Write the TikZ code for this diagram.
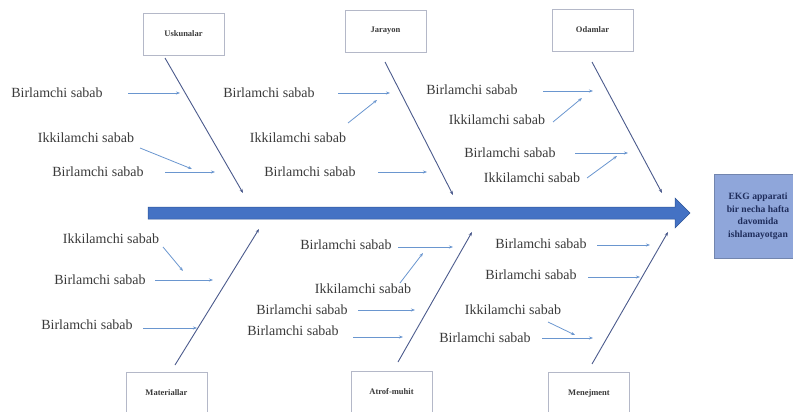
\documentclass[tikz,border=0pt]{standalone}
\usepackage{fontspec}
\setmainfont{Liberation Serif}
\usetikzlibrary{arrows.meta}
\definecolor{bone}{HTML}{4B5A8C}
\definecolor{cause}{HTML}{6A96CF}
\definecolor{mainblue}{HTML}{4472C4}
\definecolor{mainedge}{HTML}{2F5597}
\definecolor{effectfill}{HTML}{8FA6DA}
\definecolor{effecttext}{HTML}{1F2D5C}
\definecolor{boxedge}{HTML}{B4B8C8}
\definecolor{txt}{HTML}{3A3A3A}
\begin{document}
\begin{tikzpicture}[x=1pt,y=-1pt,
  cat/.style={draw=boxedge, line width=0.8pt, minimum width=81pt, minimum height=42pt,
    font=\fontsize{8.5}{10}\selectfont\bfseries, text=txt},
  causetext/.style={font=\fontsize{14}{16}\selectfont, text=txt, inner sep=0pt},
  bonearrow/.style={draw=bone, line width=0.9pt, -{Stealth[length=4pt,width=3pt]}},
  causearrow/.style={draw=cause, line width=0.8pt, -{Stealth[length=4pt,width=3pt]}},
  effectbox/.style={fill=effectfill, draw=effectfill!80!black, line width=0.4pt,
    minimum width=88pt, minimum height=84pt, align=center, text=effecttext,
    font=\fontsize{9.6}{12.5}\selectfont\bfseries}
]
\useasboundingbox (0,0) rectangle (793,412);
\clip (0,0) rectangle (793,412);

% main spine
\fill[mainblue, draw=mainedge, line width=0.5pt]
  (148,207) -- (675,207) -- (675,198) -- (690,213) -- (675,228) -- (675,219) -- (148,219) -- cycle;
\coordinate (spinetip) at (690,213);

% effect box
\node[effectbox] (effect) at (758,216) {EKG apparati\\bir necha hafta\\davomida\\ishlamayotgan};

% category boxes
\node[cat] (usk) at (183.5,34) {Uskunalar};
\node[cat] (jar) at (385.5,31) {Jarayon};
\node[cat] (oda) at (592.5,30) {Odamlar};
\node[cat] (mat) at (166.5,393) {Materiallar};
\node[cat] (atr) at (391.5,392) {Atrof-muhit};
\node[cat] (men) at (589,393) {Menejment};

% bones
\coordinate (uskS) at (165,58);  \coordinate (uskE) at (243,193);
\coordinate (jarS) at (385,62);  \coordinate (jarE) at (453,195);
\coordinate (odaS) at (592,62);  \coordinate (odaE) at (662,193);
\coordinate (matS) at (175,365); \coordinate (matE) at (259,229);
\coordinate (atrS) at (398,362); \coordinate (atrE) at (472,232);
\coordinate (menS) at (592,364); \coordinate (menE) at (668,232);
\draw[bonearrow] (uskS) -- (uskE);
\draw[bonearrow] (jarS) -- (jarE);
\draw[bonearrow] (odaS) -- (odaE);
\draw[bonearrow] (matS) -- (matE);
\draw[bonearrow] (atrS) -- (atrE);
\draw[bonearrow] (menS) -- (menE);

% ---- Uskunalar causes
\node[causetext] (c1) at (57,93) {Birlamchi sabab};
\coordinate (c1s) at (128,93); \coordinate (c1e) at (180,93);
\draw[causearrow] (c1s) -- (c1e);
\node[causetext] (c2) at (86,138) {Ikkilamchi sabab};
\coordinate (c2s) at (140,148); \coordinate (c2e) at (192,169);
\draw[causearrow] (c2s) -- (c2e);
\node[causetext] (c3) at (98,172) {Birlamchi sabab};
\coordinate (c3s) at (165,172); \coordinate (c3e) at (215,172);
\draw[causearrow] (c3s) -- (c3e);

% ---- Jarayon causes
\node[causetext] (c4) at (269,93) {Birlamchi sabab};
\coordinate (c4s) at (338,93); \coordinate (c4e) at (390,93);
\draw[causearrow] (c4s) -- (c4e);
\node[causetext] (c5) at (298,138) {Ikkilamchi sabab};
\coordinate (c5s) at (348,123); \coordinate (c5e) at (377,100);
\draw[causearrow] (c5s) -- (c5e);
\node[causetext] (c6) at (310,172) {Birlamchi sabab};
\coordinate (c6s) at (378,172); \coordinate (c6e) at (427,172);
\draw[causearrow] (c6s) -- (c6e);

% ---- Odamlar causes
\node[causetext] (c7) at (472,90) {Birlamchi sabab};
\coordinate (c7s) at (543,91); \coordinate (c7e) at (593,91);
\draw[causearrow] (c7s) -- (c7e);
\node[causetext] (c8) at (497,120) {Ikkilamchi sabab};
\coordinate (c8s) at (553,122); \coordinate (c8e) at (582,98);
\draw[causearrow] (c8s) -- (c8e);
\node[causetext] (c9) at (510,153) {Birlamchi sabab};
\coordinate (c9s) at (575,153); \coordinate (c9e) at (628,153);
\draw[causearrow] (c9s) -- (c9e);
\node[causetext] (c10) at (532,178) {Ikkilamchi sabab};
\coordinate (c10s) at (587,178); \coordinate (c10e) at (617,156);
\draw[causearrow] (c10s) -- (c10e);

% ---- Materiallar causes
\node[causetext] (c11) at (111,239) {Ikkilamchi sabab};
\coordinate (c11s) at (163,247); \coordinate (c11e) at (183,271);
\draw[causearrow] (c11s) -- (c11e);
\node[causetext] (c12) at (100,280) {Birlamchi sabab};
\coordinate (c12s) at (155,280); \coordinate (c12e) at (213,280);
\draw[causearrow] (c12s) -- (c12e);
\node[causetext] (c13) at (87,325) {Birlamchi sabab};
\coordinate (c13s) at (143,328); \coordinate (c13e) at (197,328);
\draw[causearrow] (c13s) -- (c13e);

% ---- Atrof-muhit causes
\node[causetext] (c14) at (346,245) {Birlamchi sabab};
\coordinate (c14s) at (398,247); \coordinate (c14e) at (453,247);
\draw[causearrow] (c14s) -- (c14e);
\node[causetext] (c15) at (363,289) {Ikkilamchi sabab};
\coordinate (c15s) at (400,283); \coordinate (c15e) at (423,253);
\draw[causearrow] (c15s) -- (c15e);
\node[causetext] (c16) at (302,310) {Birlamchi sabab};
\coordinate (c16s) at (358,310); \coordinate (c16e) at (415,310);
\draw[causearrow] (c16s) -- (c16e);
\node[causetext] (c17) at (293,331) {Birlamchi sabab};
\coordinate (c17s) at (353,337); \coordinate (c17e) at (403,337);
\draw[causearrow] (c17s) -- (c17e);

% ---- Menejment causes
\node[causetext] (c18) at (541,244) {Birlamchi sabab};
\coordinate (c18s) at (597,245); \coordinate (c18e) at (650,245);
\draw[causearrow] (c18s) -- (c18e);
\node[causetext] (c19) at (531,275) {Birlamchi sabab};
\coordinate (c19s) at (588,277); \coordinate (c19e) at (640,277);
\draw[causearrow] (c19s) -- (c19e);
\node[causetext] (c20) at (513,310) {Ikkilamchi sabab};
\coordinate (c20s) at (548,322); \coordinate (c20e) at (575,335);
\draw[causearrow] (c20s) -- (c20e);
\node[causetext] (c21) at (485,338) {Birlamchi sabab};
\coordinate (c21s) at (542,338); \coordinate (c21e) at (593,338);
\draw[causearrow] (c21s) -- (c21e);
\end{tikzpicture}
\end{document}
